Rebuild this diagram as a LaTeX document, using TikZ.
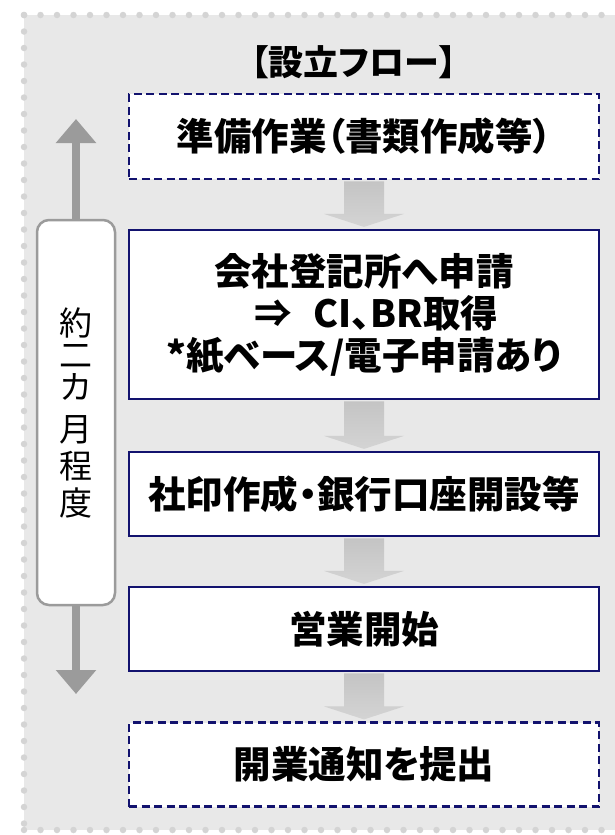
\documentclass[tikz,border=0pt]{standalone}
\usepackage{fontspec}
\setmainfont{Noto Sans CJK JP}[RawFeature=+palt]
\newfontfamily\jpreg{Noto Sans CJK JP}
\usetikzlibrary{arrows.meta,calc}
\definecolor{panel}{HTML}{E8E8E8}
\definecolor{dotc}{HTML}{D4D4D4}
\definecolor{navy}{HTML}{12126E}
\definecolor{arrg}{HTML}{9B9B9B}
\definecolor{flowa}{HTML}{C4C4C4}
\definecolor{flowb}{HTML}{D4D4D4}
\begin{document}
\begin{tikzpicture}[x=1pt,y=-1pt,
  stepbox/.style={draw=navy, line width=2.2pt, fill=white, minimum width=470pt, inner sep=0pt,
    font=\bfseries\fontsize{37.5}{42}\selectfont, align=center},
  optbox/.style={stepbox, dash pattern=on 8pt off 4.5pt},
  dots/.style={dotc, line width=6.5pt, line cap=round, dash pattern=on 0pt off 16.5pt}
]
\useasboundingbox (0,0) rectangle (615,835);
% panel
\fill[panel] (24,15) rectangle (615,830);
\draw[dots] (24,15) -- (615,15);
\draw[dots] (24,15) -- (24,830);
\draw[dots] (24,830) -- (615,830);

% title
\node[font=\bfseries\fontsize{35}{40}\selectfont] (title) at (354,62) {【設立フロー】};

% boxes
\node[optbox, minimum height=85pt] (b1) at (364,136.5) {準備作業（書類作成等）};
\node[stepbox, minimum height=169pt] (b2) at (364,314.5)
  {会社登記所へ申請\\ \hspace*{24pt}⇒\hspace{22pt}CI、BR取得\\ *紙ベース/電子申請あり};
\node[stepbox, minimum height=84pt] (b3) at (364,494) {社印作成・銀行口座開設等};
\node[stepbox, minimum height=84pt] (b4) at (364,629) {営業開始};
\node[optbox, minimum height=84pt] (b5) at (364,764.5) {開業通知を提出};

% flow arrows
\foreach \a/\b in {b1/b2,b2/b3,b3/b4,b4/b5}{
  \shade[top color=flowa, bottom color=flowb]
    ($(\a.south)+(-20,1.2)$) -- ($(\a.south)+(20,1.2)$) -- ($(\b.north)+(20,-15)$) --
    ($(\b.north)+(40,-15)$) -- ($(\b.north)+(0,-2)$) -- ($(\b.north)+(-40,-15)$) --
    ($(\b.north)+(-20,-15)$) -- cycle;
}

% duration box and double arrow
\node[draw=arrg, line width=2.5pt, rounded corners=12pt, fill=white,
      minimum width=78pt, minimum height=385pt, inner sep=0pt,
      font=\jpreg\fontsize{33}{37}\selectfont, align=center] (dur) at (76,412.5)
  {約\\[-5pt]二\\[-5pt]カ\\[5pt]月\\程\\度};
\coordinate (uptip) at (76,119);
\coordinate (downtip) at (76,694);
\draw[arrg, line width=8pt, -{Triangle[width=39pt,length=24pt]}] (dur.north) -- (uptip);
\draw[arrg, line width=8pt, -{Triangle[width=39pt,length=24pt]}] (dur.south) -- (downtip);
\end{tikzpicture}
\end{document}
